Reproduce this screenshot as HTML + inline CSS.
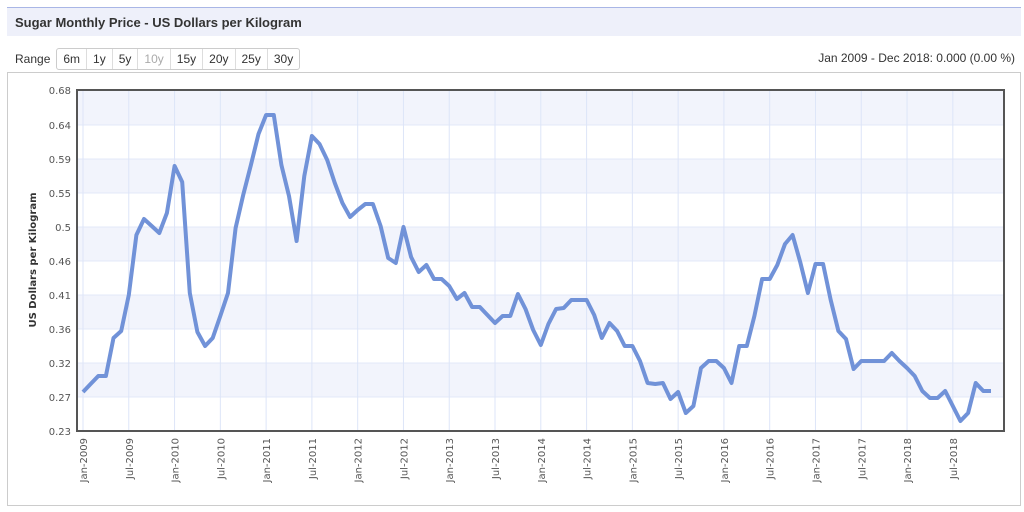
<!DOCTYPE html>
<html><head><meta charset="utf-8"><style>
body{margin:0;width:1024px;height:512px;background:#fff;font-family:"Liberation Sans",Arial,sans-serif;position:relative;overflow:hidden}
.title{position:absolute;left:7px;top:7px;width:1014px;height:29px;background:#eef0fa;border-top:1px solid #a9b6e6;font-weight:bold;font-size:13px;color:#333;line-height:29px;padding-left:8px;box-sizing:border-box}
.range{position:absolute;left:15px;top:48px;font-size:12px;color:#333;display:flex;align-items:center}
.range span.l{margin-right:6px}
.btns{display:flex;border:1px solid #ccc;border-radius:3px;background:#fff}
.btns div{padding:0 6px;height:20px;line-height:20px;border-right:1px solid #ddd}
.btns div:last-child{border-right:none}
.r{position:absolute;right:9px;top:51px;font-size:12px;color:#333}
.box{position:absolute;left:7px;top:72px;width:1014px;height:434px;border:1px solid #ccc;box-sizing:border-box}
</style></head><body>
<div class="title">Sugar Monthly Price - US Dollars per Kilogram</div>
<div class="range"><span class="l">Range</span><div class="btns"><div>6m</div><div>1y</div><div>5y</div><div style="color:#aaa">10y</div><div>15y</div><div>20y</div><div>25y</div><div>30y</div></div></div>
<div class="r">Jan 2009 - Dec 2018: 0.000 (0.00 %)</div>
<div class="box"></div>
<svg id="s" width="1024" height="512" style="position:absolute;left:0;top:0" font-family="DejaVu Sans, Verdana, sans-serif"></svg>
<script>
var s=document.getElementById('s'),h='';
var L=77,R=1004,T=90,B=431;
var ys=[431,397,363,329,295,261,227,193,159,125,90],lb=['0.23','0.27','0.32','0.36','0.41','0.46','0.5','0.55','0.59','0.64','0.68'];
for(var i=0;i<10;i++){if(i%2==1)h+='<rect x="'+L+'" y="'+ys[i+1]+'" width="'+(R-L)+'" height="'+(ys[i]-ys[i+1])+'" fill="#f2f4fc"/>';}
for(i=1;i<10;i++)h+='<line x1="'+L+'" x2="'+R+'" y1="'+ys[i]+'" y2="'+ys[i]+'" stroke="#e3e8f8"/>';
for(i=0;i<11;i++)h+='<text x="'+(L-6)+'" y="'+(ys[i]+4)+'" font-size="10" fill="#555" text-anchor="end">'+lb[i]+'</text>';
var m=['Jan','Jul'];
for(i=0;i<20;i++){var x=83+i*6*7.63,yr=2009+Math.floor(i/2);
h+='<line x1="'+x+'" x2="'+x+'" y1="'+T+'" y2="'+B+'" stroke="#dde5f8"/>';
h+='<text transform="translate('+(x+4)+',438) rotate(-90)" font-size="10" fill="#555" text-anchor="end">'+m[i%2]+'-'+yr+'</text>';}
var d=[392,384,376,376,338,331,295,235,219,226,233,213,166,182,293,332,346,338,316,293,228,195,165,134,115,115,165,196,241,176,136,144,160,183,203,217,210,204,204,226,258,263,227,257,272,265,279,279,286,299,293,307,307,315,323,316,316,294,309,330,345,324,309,308,300,300,300,315,338,323,331,346,346,361,383,384,383,399,392,413,406,368,361,361,368,383,346,346,316,279,279,265,244,235,262,293,264,264,300,331,339,369,361,361,361,361,353,361,368,376,391,398,398,391,406,421,413,383,391,391];
var p=d.map(function(v,i){return (83+i*7.63).toFixed(1)+','+v}).join(' ');
h+='<polyline points="'+p+'" fill="none" stroke="#7192d8" stroke-width="4" stroke-linejoin="round"/>';
h+='<rect x="'+L+'" y="'+T+'" width="'+(R-L)+'" height="'+(B-T)+'" fill="none" stroke="#555" stroke-width="2"/>';
h+='<text transform="translate(36,260) rotate(-90)" font-size="10" font-weight="bold" fill="#333" text-anchor="middle">US Dollars per Kilogram</text>';
s.innerHTML=h;
</script>
</body></html>
